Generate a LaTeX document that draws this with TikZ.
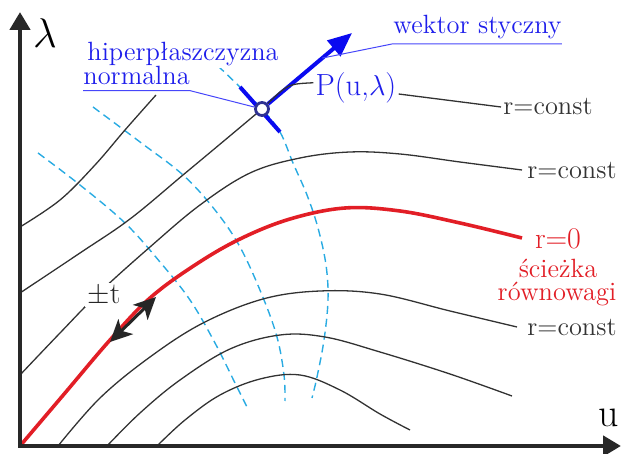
\documentclass[tikz,border=0pt]{standalone}
\usepackage{fontspec}
\usetikzlibrary{arrows.meta,calc}
\definecolor{cRed}{RGB}{226,30,38}
\definecolor{cDash}{RGB}{41,171,226}
\definecolor{cCurve}{RGB}{50,50,50}
\definecolor{cBlue}{RGB}{10,10,240}
\definecolor{cText}{RGB}{30,30,235}
\definecolor{cLeader}{RGB}{70,70,250}
\definecolor{cNavy}{RGB}{46,49,146}
\definecolor{cAxis}{RGB}{40,40,40}
\begin{document}
\begin{tikzpicture}[x=0.5pt,y=-0.5pt,
  curve/.style={draw=cCurve,line width=0.65pt},
  dashcurve/.style={draw=cDash,line width=0.7pt,dash pattern=on 4pt off 2.5pt},
  redcurve/.style={draw=cRed,line width=1.8pt},
  axis/.style={draw=cAxis,line width=2.2pt,{Triangle[length=9pt,width=10pt]}-{Triangle[length=9pt,width=10pt]}},
  normalseg/.style={draw=cBlue,line width=2pt},
  tangent/.style={draw=cBlue,line width=2pt,-{Triangle[length=12pt,width=10pt]}},
  pmarrow/.style={draw=black!85,line width=1.5pt,{Stealth[length=11pt,width=10.5pt,inset=3pt]}-{Stealth[length=11pt,width=10.5pt,inset=3pt]}},
  leader/.style={draw=cLeader,line width=0.5pt},
  lab/.style={font=\fontsize{13.2}{12}\selectfont,inner sep=1pt},
  bluelab/.style={lab,text=cText},
  redlab/.style={lab,text=cRed},
  pdot/.style={circle,draw=cNavy,line width=1.4pt,fill=white,minimum size=6.5pt,inner sep=0pt}
]
\useasboundingbox (0,0) rectangle (622,454);

\coordinate (O) at (20,446);
\coordinate (ytip) at (20,12);
\coordinate (xtip) at (621,446);
\coordinate (P) at (262,109);
\coordinate (n1) at (240,87);
\coordinate (n2) at (280,132);
\coordinate (tip) at (352,33);
\coordinate (t1) at (110,342);
\coordinate (t2) at (156,297);

% normal hyperplanes (dashed)
\draw[dashcurve] plot[smooth,tension=0.6] coordinates {(38,153) (80,185) (125,223) (160,262) (190,300) (215,343) (235,383) (247,407)};
\draw[dashcurve] plot[smooth,tension=0.6] coordinates {(93,107) (140,142) (183,175) (215,210) (240,247) (262,295) (277,337) (284,375) (285,401)};
\draw[dashcurve] plot[smooth,tension=0.6] coordinates {(218,66) (240,87) (262,109) (280,132) (293,163) (307,195) (318,228) (326,265) (328,300) (324,340) (317,377) (312,398)};

% r = const curves
\draw[curve] plot[smooth,tension=0.6] coordinates {(20,227) (60,200) (95,165) (125,130) (156,95)};
\draw[curve] plot[smooth,tension=0.6] coordinates {(20,293) (80,253) (130,219) (183,175) (225,140) (262,109)};
\draw[curve] plot[smooth,tension=0.6] coordinates {(20,375) (60,333) (100,292) (150,247) (200,205) (250,173) (300,158) (350,152) (400,154) (460,162) (522,170)};
\draw[curve] plot[smooth,tension=0.6] coordinates {(58,446) (100,398) (150,357) (203,323) (263,299) (320,291) (380,294) (450,311) (517,327)};
\draw[curve] plot[smooth,tension=0.6] coordinates {(107,446) (140,413) (180,380) (230,349) (280,335) (325,337) (380,352) (450,374) (512,396)};
\draw[curve] plot[smooth,tension=0.6] coordinates {(157,446) (185,420) (220,395) (260,379) (300,375) (340,390) (380,414) (410,430)};

% equilibrium path r = 0
\draw[redcurve] plot[smooth,tension=0.6] coordinates {(20,446) (65,393) (110,340) (150,298) (195,265) (240,239) (290,219) (345,208) (400,211) (460,223) (522,238)};

% axes
\draw[axis] (ytip) -- (O) -- (xtip);

% normal hyperplane and point P
\draw[normalseg] (n1) -- (n2);
\node[pdot] (Pc) at (P) {};
\draw[tangent] (Pc) -- (tip);
\coordinate (wsend) at ($(Pc)!0.67!(tip)$);

% labels
\node[font=\fontsize{20}{24}\selectfont,inner sep=1pt] (lam) at (45,33) {$\lambda$};
\node[font=\fontsize{20}{24}\selectfont,inner sep=1pt] (uu) at (609,418) {u};

\node[lab,text=cText,font=\fontsize{15.3}{16}\selectfont,fill=white] (plab) at (356,88) {P(u,$\lambda$)};
\node[lab,text=black!80] (rc1) at (548,107) {r=const};
\node[lab,text=black!80] (rc2) at (572,171) {r=const};
\node[lab,text=black!80] (rc3) at (572,328) {r=const};
\node[redlab,font=\fontsize{15}{16}\selectfont] (r0) at (558,239) {r=0};
\node[redlab] (sc1) at (558,268) {ścieżka};
\node[redlab] (sc2) at (557,294) {równowagi};
\node[lab,font=\fontsize{15}{16}\selectfont,fill=white,text=black!85] (pmt) at (104,295) {$\pm$t};

\node[bluelab,anchor=base west,fill=white] (hp1) at (85,61) {hiperpłaszczyzna};
\node[bluelab,anchor=base west,inner xsep=0pt,inner ysep=2.5pt] (hp2) at (83,85) {normalna};
\node[bluelab,anchor=base west,inner xsep=0pt,inner ysep=2pt] (ws) at (393,34) {wektor styczny};

% connectors
\draw[curve] (Pc) .. controls (288,84) .. (plab.173);
\draw[curve] (plab.-8) -- (rc1.west);
\draw[leader] (hp2.south west) -- (hp2.south east) -- (Pc);
\draw[leader] (ws.south east) -- (ws.south west) -- (wsend);
\draw[pmarrow] (t1) -- (t2);
\end{tikzpicture}
\end{document}
